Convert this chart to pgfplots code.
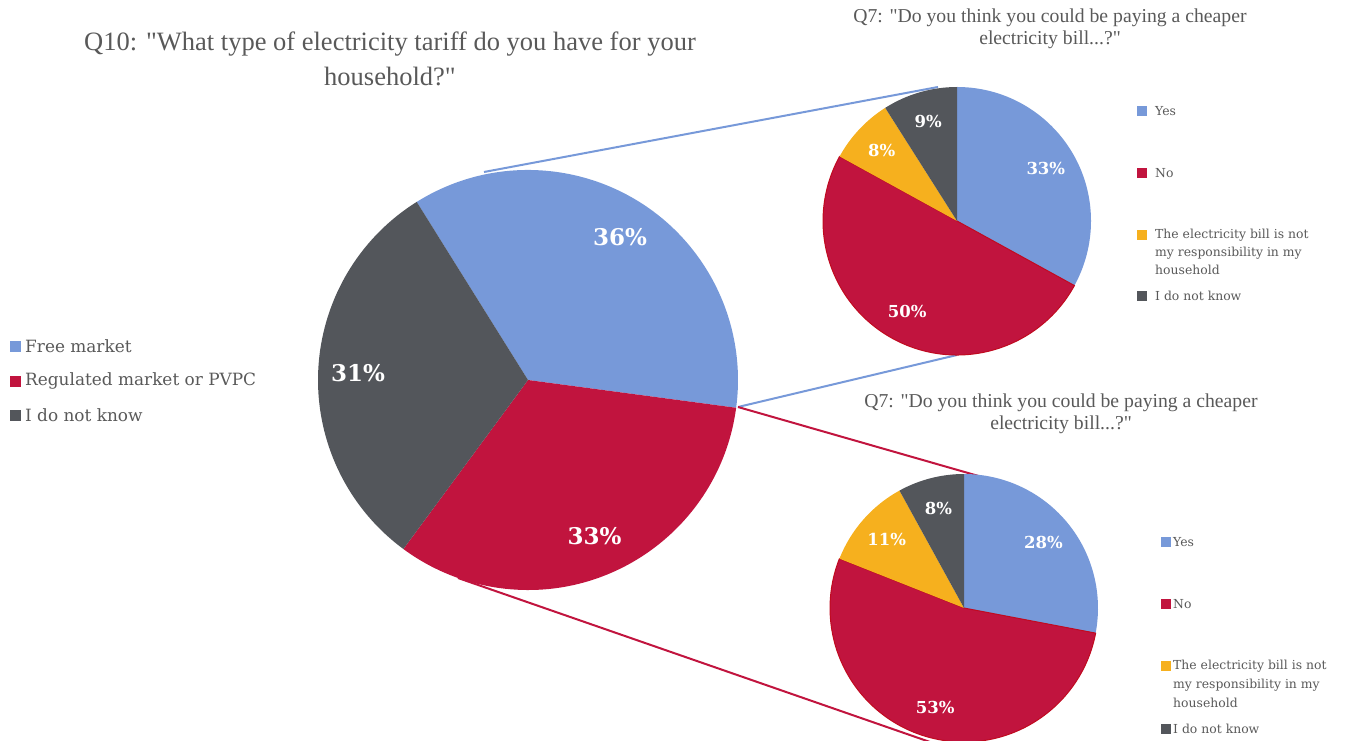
\documentclass[border=0pt]{standalone}
\usepackage{pgfplots}
\pgfplotsset{compat=1.18}
\usepackage{fontspec}
\setmainfont{Liberation Serif}
\newfontfamily\lgfont{DejaVu Serif}
\definecolor{cblue}{HTML}{7799D9}
\definecolor{cred}{HTML}{C1143E}
\definecolor{credline}{HTML}{C00A20}
\definecolor{cyel}{HTML}{F6B01E}
\definecolor{cgray}{HTML}{53565B}
\definecolor{ctext}{HTML}{595959}
\tikzset{credb/.style={fill=cred,draw=credline,line width=1pt}}
% #1 cx, #2 cy, #3 r, #4 start angle, #5 label radius fraction, #6 label font size, #7 list value/colour
\newcommand\pie[7]{%
 \pgfplotsextra{%
  \begin{scope}
  \clip (axis cs:0,0) rectangle (axis cs:1349,740);
  \gdef\cum{#4}%
  \foreach \v/\c in {#7} {%
    \pgfmathsetmacro\a{\cum}%
    \pgfmathsetmacro\b{\cum-3.6*\v}%
    \fill[\c] (axis cs:#1,#2) -- ++(\a:#3pt) arc[start angle=\a,end angle=\b,radius=#3pt] -- cycle;
    \xdef\cum{\b}%
  }%
  \gdef\cum{#4}%
  \foreach \v/\c in {#7} {%
    \pgfmathsetmacro\a{\cum}%
    \pgfmathsetmacro\b{\cum-3.6*\v}%
    \pgfmathsetmacro\m{(\a+\b)/2}%
    \path (axis cs:#1,#2) ++(\m:#5*#3pt) node[text=white,font=\lgfont\bfseries\fontsize{#6}{#6}\selectfont]{\v\%};
    \xdef\cum{\b}%
  }%
  \end{scope}
 }%
}
\begin{document}
\begin{tikzpicture}
\begin{axis}[x=1pt,y=1pt,xmin=0,xmax=1349,ymin=0,ymax=740,hide axis,scale only axis]
% connector lines
\addplot[cblue,line width=2pt] coordinates {(484,568) (938,653)};
\addplot[cblue,line width=2pt] coordinates {(738,333) (957,385)};
\addplot[cred,line width=2pt] coordinates {(738,333) (996,259)};
\addplot[cred,line width=2pt] coordinates {(458,162) (930,-2)};
% pies
\pie{528}{360}{210}{122}{0.81}{23}{36/cblue,33/cred,31/cgray}
\pie{957}{519}{134}{90}{0.77}{16.5}{33/cblue,50/credb,8/cyel,9/cgray}
\pie{964}{132}{134}{90}{0.77}{16.5}{28/cblue,53/credb,11/cyel,8/cgray}
% legend markers
\addplot[only marks,mark=square*,mark size=5pt,cblue] coordinates {(15,394)};
\addplot[only marks,mark=square*,mark size=5pt,cred] coordinates {(15,359)};
\addplot[only marks,mark=square*,mark size=5pt,cgray] coordinates {(15,325)};
\addplot[only marks,mark=square*,mark size=4.5pt,cblue] coordinates {(1142,629)};
\addplot[only marks,mark=square*,mark size=4.5pt,cred] coordinates {(1142,567)};
\addplot[only marks,mark=square*,mark size=4.5pt,cyel] coordinates {(1142,505)};
\addplot[only marks,mark=square*,mark size=4.5pt,cgray] coordinates {(1142,444)};
\addplot[only marks,mark=square*,mark size=4.5pt,cblue] coordinates {(1166,198)};
\addplot[only marks,mark=square*,mark size=4.5pt,cred] coordinates {(1166,136)};
\addplot[only marks,mark=square*,mark size=4.5pt,cyel] coordinates {(1166,74)};
\addplot[only marks,mark=square*,mark size=4.5pt,cgray] coordinates {(1166,11)};
% titles
\node[text=ctext,font=\fontsize{26.5}{30}\selectfont] at (axis cs:390,696) {Q10: \textquotedbl What type of electricity tariff do you have for your};
\node[text=ctext,font=\fontsize{26.5}{30}\selectfont] at (axis cs:390,664) {household?\textquotedbl};
\node[text=ctext,font=\fontsize{19.7}{23}\selectfont] at (axis cs:1050,722) {Q7: \textquotedbl Do you think you could be paying a cheaper};
\node[text=ctext,font=\fontsize{19.7}{23}\selectfont] at (axis cs:1050,700) {electricity bill...?\textquotedbl};
\node[text=ctext,font=\fontsize{19.7}{23}\selectfont] at (axis cs:1061,337) {Q7: \textquotedbl Do you think you could be paying a cheaper};
\node[text=ctext,font=\fontsize{19.7}{23}\selectfont] at (axis cs:1061,315) {electricity bill...?\textquotedbl};
% legend texts
\begin{scope}[every node/.style={text=ctext,anchor=west,inner sep=0pt}]
\node[font=\lgfont\fontsize{16.9}{19}\selectfont] at (axis cs:25,394) {Free market};
\node[font=\lgfont\fontsize{16.9}{19}\selectfont] at (axis cs:25,359) {Regulated market or PVPC};
\node[font=\lgfont\fontsize{16.9}{19}\selectfont] at (axis cs:25,325) {I do not know};
\node[font=\lgfont\fontsize{12.4}{14}\selectfont] at (axis cs:1155,629) {Yes};
\node[font=\lgfont\fontsize{12.4}{14}\selectfont] at (axis cs:1155,567) {No};
\node[font=\lgfont\fontsize{12.4}{14}\selectfont] at (axis cs:1155,505) {The electricity bill is not};
\node[font=\lgfont\fontsize{12.4}{14}\selectfont] at (axis cs:1155,487) {my responsibility in my};
\node[font=\lgfont\fontsize{12.4}{14}\selectfont] at (axis cs:1155,470) {household};
\node[font=\lgfont\fontsize{12.4}{14}\selectfont] at (axis cs:1155,444) {I do not know};
\node[font=\lgfont\fontsize{12.4}{14}\selectfont] at (axis cs:1173,198) {Yes};
\node[font=\lgfont\fontsize{12.4}{14}\selectfont] at (axis cs:1173,136) {No};
\node[font=\lgfont\fontsize{12.4}{14}\selectfont] at (axis cs:1173,74) {The electricity bill is not};
\node[font=\lgfont\fontsize{12.4}{14}\selectfont] at (axis cs:1173,55) {my responsibility in my};
\node[font=\lgfont\fontsize{12.4}{14}\selectfont] at (axis cs:1173,37) {household};
\node[font=\lgfont\fontsize{12.4}{14}\selectfont] at (axis cs:1173,11) {I do not know};
\end{scope}
\end{axis}
\pgfresetboundingbox
\path (current axis.south west) rectangle (current axis.north east);
\end{tikzpicture}
\end{document}
